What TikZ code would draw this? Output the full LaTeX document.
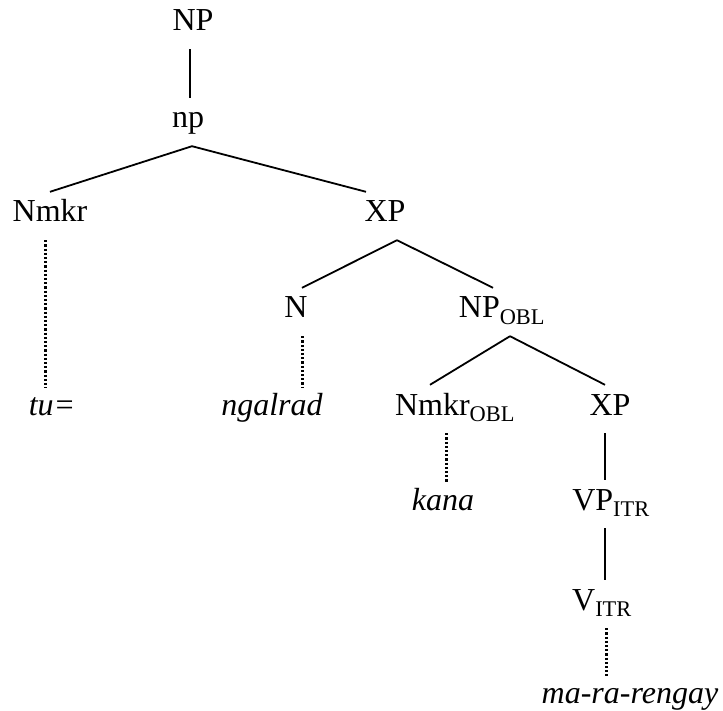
\documentclass[tikz,border=0pt]{standalone}
\usepackage{fontspec}
\setmainfont{Liberation Serif}[ItalicFont = {Liberation Serif Italic}]

\begin{document}
\begin{tikzpicture}[x = 1pt, y = -1pt,
	lbl/.style = {anchor = base, inner sep = 0pt, text height = 30pt, text depth = 18pt,
		font = \fontsize{32}{38}\selectfont},
	leaf/.style = {lbl, font = \fontsize{32}{38}\selectfont\itshape},
	branch/.style = {line width = 1.8pt},
	link/.style = {line width = 3pt, dash pattern = on 2.2pt off 2pt, shorten > = -3pt}]
	\useasboundingbox (0,0) rectangle (723,711);

	% categories
	\node[lbl] (top) at (193, 31) {NP};
	\node[lbl] (np) at (188, 128) {np};
	\node[lbl] (nmkr) at (50, 222) {Nmkr};
	\node[lbl] (xp) at (385, 222) {XP};
	\node[lbl] (n) at (296, 318) {N};
	\node[lbl] (npobl) at (502, 318) {NP\textsubscript{OBL}};
	\node[lbl] (nmkrobl) at (455, 415) {Nmkr\textsubscript{OBL}};
	\node[lbl] (xpb) at (610, 415) {XP};
	\node[lbl] (vp) at (611, 510) {VP\textsubscript{ITR}};
	\node[lbl] (v) at (602, 610) {V\textsubscript{ITR}};

	% words
	\node[leaf] (tu) at (52, 415) {tu=};
	\node[leaf] (ngalrad) at (272, 415) {ngalrad};
	\node[leaf] (kana) at (443, 510) {kana};
	\node[leaf] (rengay) at (630, 703) {ma-ra-rengay};

	% branches
	\draw[branch] ([xshift=-3]top.south) -- ([xshift=2]np.north);
	\draw[branch] ([xshift=4]np.south) -- (nmkr.north);
	\draw[branch] ([xshift=4]np.south) -- ([xshift=-19]xp.north);
	\draw[branch] ([xshift=12]xp.south) -- ([xshift=6]n.north);
	\draw[branch] ([xshift=12]xp.south) -- ([xshift=-9]npobl.north);
	\draw[branch] ([xshift=8]npobl.south) -- ([xshift=-25]nmkrobl.north);
	\draw[branch] ([xshift=8]npobl.south) -- ([xshift=-5]xpb.north);
	\draw[branch] ([xshift=-5]xpb.south) -- ([xshift=-6]vp.north);
	\draw[branch] ([xshift=-6]vp.south) -- ([xshift=3]v.north);

	% lexical links
	\draw[link] ([xshift=-5]nmkr.south) -- ([xshift=-7]tu.north);
	\draw[link] ([xshift=6]n.south) -- ([xshift=30]ngalrad.north);
	\draw[link] ([xshift=-9]nmkrobl.south) -- ([xshift=3]kana.north);
	\draw[link] ([xshift=4]v.south) -- ([xshift=-24]rengay.north);
\end{tikzpicture}
\end{document}
